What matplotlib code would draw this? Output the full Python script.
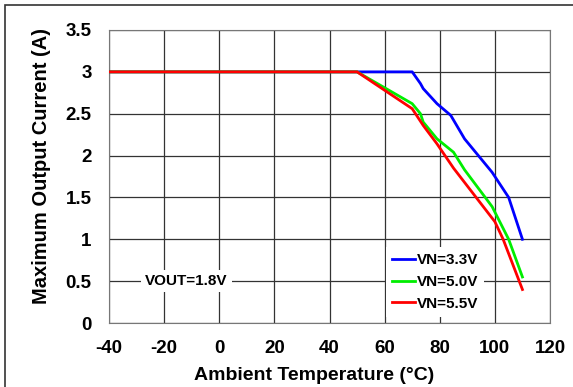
import matplotlib.pyplot as plt
from matplotlib.patches import Rectangle

plt.rcParams['font.family'] = ['Liberation Sans', 'DejaVu Sans']
plt.rcParams['font.weight'] = 'bold'
plt.rcParams['axes.unicode_minus'] = False

# data
t_33 = [-40, 70, 73, 74, 79, 84, 89, 99, 105, 110]
i_33 = [3.0, 3.0, 2.86, 2.80, 2.62, 2.48, 2.20, 1.80, 1.50, 1.00]
t_50 = [-40, 50, 70, 73, 74, 79, 85, 89, 99, 105, 110]
i_50 = [3.0, 3.0, 2.62, 2.50, 2.40, 2.20, 2.04, 1.83, 1.39, 1.00, 0.55]
t_55 = [-40, 50, 70, 74, 79, 85, 100, 103, 110]
i_55 = [3.0, 3.0, 2.56, 2.36, 2.14, 1.85, 1.21, 1.00, 0.40]

xticks = [-40, -20, 0, 20, 40, 60, 80, 100, 120]
yticks = [0, 0.5, 1, 1.5, 2, 2.5, 3, 3.5]
ytick_labels = ['0', '0.5', '1', '1.5', '2', '2.5', '3', '3.5']

fig = plt.figure(figsize=(5.73, 3.87), dpi=100)
ax = fig.add_axes([109 / 573, 1 - 323 / 387, 441 / 573, 293 / 387])

ax.plot(t_33, i_33, color='#0000ff', lw=2, label='VN=3.3V', zorder=3)
ax.plot(t_50, i_50, color='#00ee00', lw=2, label='VN=5.0V', zorder=3)
ax.plot(t_55, i_55, color='#ff0000', lw=2, label='VN=5.5V', zorder=4)

ax.set_xlim(-40, 120)
ax.set_ylim(0, 3.5)
ax.set_xticks(xticks)
ax.set_yticks(yticks)
ax.set_yticklabels(ytick_labels)
ax.tick_params(length=0, labelsize=13.5)
ax.tick_params(axis='y', pad=12.5)
ax.tick_params(axis='x', pad=12)
ax.grid(True, color='#333333', lw=0.9)
for s in ax.spines.values():
    s.set_color('#777777')

fig.text(0.548, 0.031, 'Ambient Temperature (°C)', fontsize=14, fontweight='bold',
         ha='center', va='center')
fig.text(0.072, 0.571, 'Maximum Output Current (A)', fontsize=14.5, fontweight='bold',
         ha='center', va='center', rotation=90)

leg = ax.legend(loc='center', bbox_to_anchor=(0.739, 0.14), frameon=True,
                fontsize=11, handlelength=1.5, handletextpad=0.1,
                labelspacing=0.5, borderpad=0.4, fancybox=False)
leg.get_frame().set_edgecolor('none')
leg.get_frame().set_facecolor('white')
leg.get_frame().set_alpha(1)
leg.set_zorder(5)

ax.text(-12, 0.5, 'VOUT=1.8V', fontsize=11, fontweight='bold', ha='center', va='center',
        bbox=dict(facecolor='white', edgecolor='none', pad=3), zorder=5)

fig.patches.append(Rectangle((5 / 573, -0.05), 1.1, 1 - 5 / 387 + 0.05,
                             transform=fig.transFigure, fill=False,
                             edgecolor='#333333', lw=1.2))

plt.savefig('out.png', dpi=100)
